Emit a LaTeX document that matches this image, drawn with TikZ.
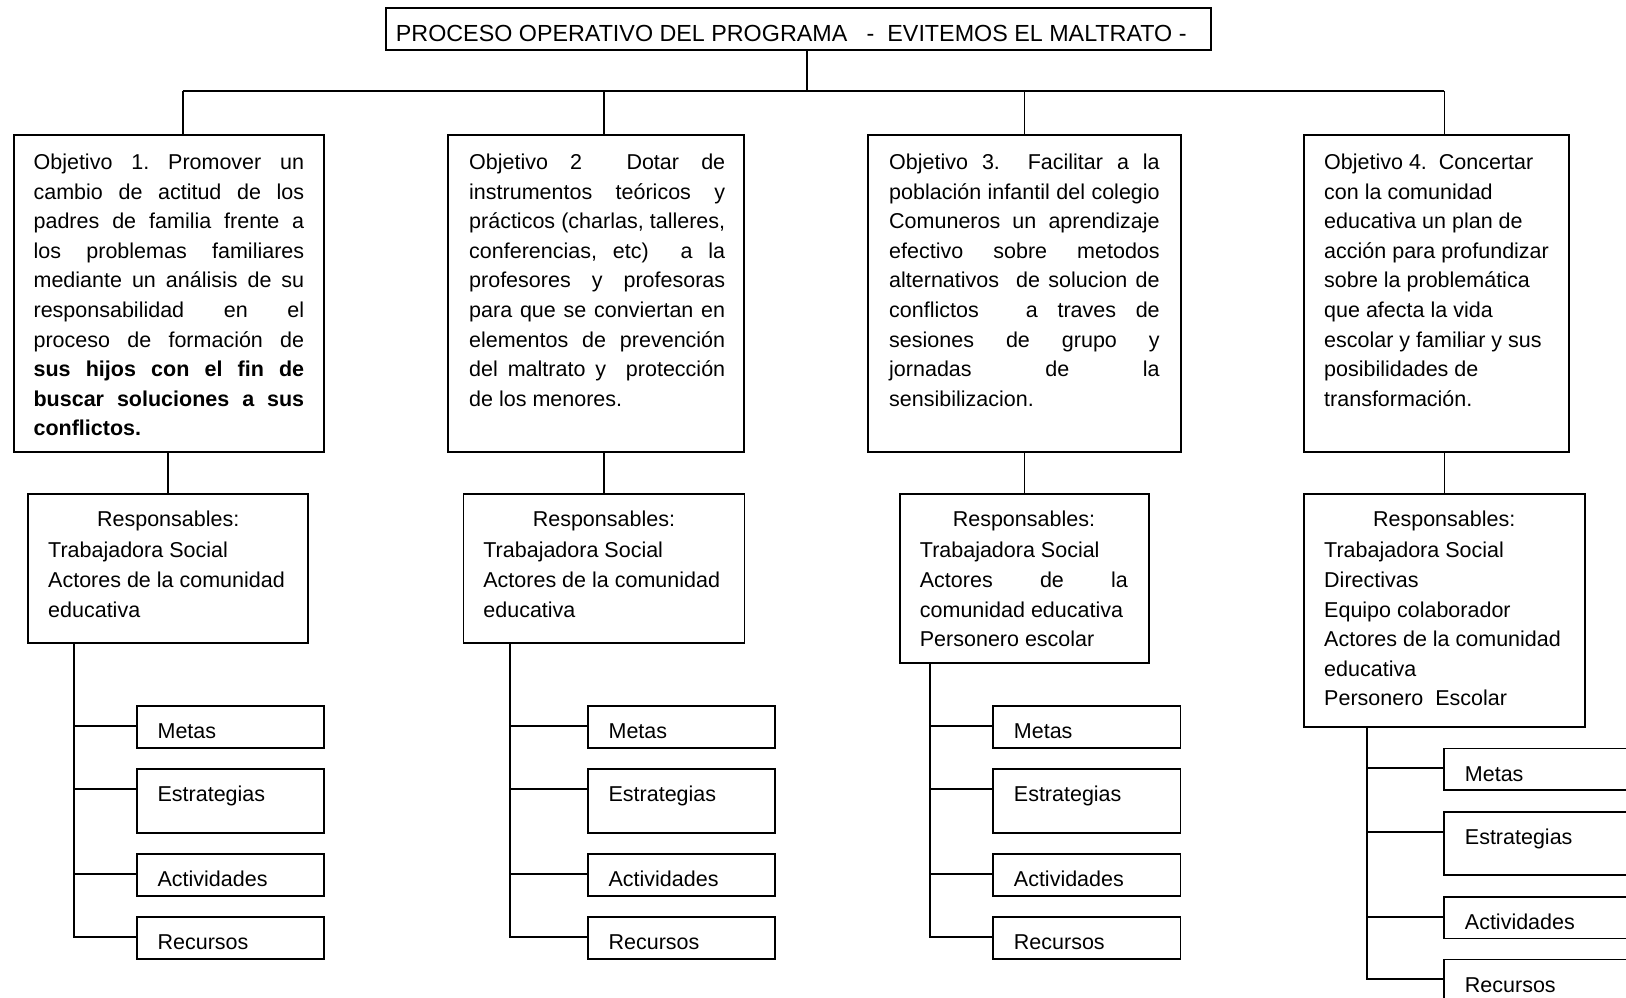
\documentclass[tikz,border=0pt]{standalone}
\usepackage{fontspec}
\setmainfont{Liberation Sans}
\setlength{\parindent}{0pt}

% one justified line of a box: the words are spread over the whole width
\def\jl#1{\leavevmode\hbox to \hsize{\jlw#1 \jlend}}
\def\jlw#1 #2\jlend{#1\ifx\relax#2\relax\else\hfill\jlw#2\jlend\fi}
% wider gap in a justified line
\newcommand{\xg}{\hskip 0pt plus 1.4fill\relax}
% fixed height of the first line
\newcommand{\fl}{\rule{0pt}{20pt}}

\begin{document}
\begin{tikzpicture}[x=1pt, y=-1pt, line width=1.8pt,
  box/.style={draw, rectangle, inner sep=0pt, anchor=north west},
  txt/.style={inner sep=0pt, anchor=north west, align=flush left, font={\fontsize{21.5}{29.6}\selectfont}},
  lbl/.style={inner sep=0pt, anchor=base west, font={\fontsize{21.5}{29.6}\selectfont}}]

\useasboundingbox (0,0) rectangle (1626,997);
\clip (0,0) rectangle (1626,997);
\fill[white] (0,0) rectangle (1626,997);

% titulo
\node[box, minimum width=825.4pt, minimum height=42pt] (titulo) at (385,7.3) {};
\begin{scope}
\clip (titulo.north west) rectangle ([yshift=9.3pt]titulo.south east);
\node[lbl, font={\fontsize{23.3}{28}\selectfont}] (titulot) at ([xshift=10pt,yshift=-33.7pt]titulo.north west) {PROCESO OPERATIVO DEL PROGRAMA\ \ \ -\ \ EVITEMOS EL MALTRATO -};
\end{scope}

% objetivos
\node[box, minimum width=310.6pt, minimum height=316.7pt] (obj1) at (12.7,134) {};
\node[box, minimum width=296pt, minimum height=316.7pt] (obj2) at (447.3,134) {};
\node[box, minimum width=312.7pt, minimum height=316.7pt] (obj3) at (867.3,134) {};
\node[box, minimum width=265pt, minimum height=316.7pt] (obj4) at (1303.3,134) {};

\node[txt, text width=270.6pt] (obj1t) at ([xshift=20pt,yshift=-14.5pt]obj1.north west) {\jl{\fl Objetivo 1. Promover un}\\ \jl{cambio de actitud de los}\\ \jl{padres de familia frente a}\\ \jl{los problemas familiares}\\ \jl{mediante un análisis de su}\\ \jl{responsabilidad en el}\\ \jl{proceso de formación de}\\ \jl{\bfseries sus hijos con el fin de}\\ \jl{\bfseries buscar soluciones a sus}\\ \textbf{conflictos.}};

\node[txt, text width=256pt] (obj2t) at ([xshift=21pt,yshift=-14.5pt]obj2.north west) {\jl{\fl Objetivo 2 \hfill Dotar de}\\ \jl{instrumentos teóricos y}\\ \jl{prácticos (charlas, talleres,}\\ \jl{conferencias, etc) \hfill a la}\\ \jl{profesores y profesoras}\\ \jl{para que se conviertan en}\\ \jl{elementos de prevención}\\ \jl{del maltrato y \hfill protección}\\ de los menores.};

\node[txt, text width=270.5pt] (obj3t) at ([xshift=21pt,yshift=-14.5pt]obj3.north west) {\jl{\fl Objetivo 3. \hfill Facilitar a la}\\ \jl{población infantil del colegio}\\ \jl{Comuneros un aprendizaje}\\ \jl{efectivo sobre metodos}\\ \jl{alternativos \hfill de solucion de}\\ \jl{conflictos \xg a traves de}\\ \jl{sesiones de grupo y}\\ \jl{jornadas de la}\\ sensibilizacion.};

\node[txt, text width=235pt] (obj4t) at ([xshift=20pt,yshift=-14.5pt]obj4.north west) {\fl Objetivo 4.\ \ Concertar\\ con la comunidad\\ educativa un plan de\\ acción para profundizar\\ sobre la problemática\\ que afecta la vida\\ escolar y familiar y sus\\ posibilidades de\\ transformación.};

% responsables
\node[box, minimum width=280pt, minimum height=148.4pt] (r1) at (27.3,493.3) {};
\node[box, minimum width=281pt, minimum height=148.4pt] (r2) at (462.5,493.3) {};
\node[box, minimum width=249pt, minimum height=169pt] (r3) at (899,493.3) {};
\node[box, minimum width=280.7pt, minimum height=232.7pt] (r4) at (1303.3,493.3) {};

\node[txt, text width=240pt] (r1t) at ([xshift=20pt,yshift=-12.5pt]r1.north west) {\makebox[\hsize][c]{\fl Responsables:}\\[1.6pt] Trabajadora Social\\ Actores de la comunidad\\ educativa};
\node[txt, text width=241pt] (r2t) at ([xshift=20pt,yshift=-12.5pt]r2.north west) {\makebox[\hsize][c]{\fl Responsables:}\\[1.6pt] Trabajadora Social\\ Actores de la comunidad\\ educativa};
\node[txt, text width=208pt] (r3t) at ([xshift=20pt,yshift=-12.5pt]r3.north west) {\makebox[\hsize][c]{\fl Responsables:}\\[1.6pt] Trabajadora Social\\ \jl{Actores de la}\\ comunidad educativa\\ Personero escolar};
\node[txt, text width=240pt] (r4t) at ([xshift=20pt,yshift=-12.5pt]r4.north west) {\makebox[\hsize][c]{\fl Responsables:}\\[1.6pt] Trabajadora Social\\ Directivas\\ Equipo colaborador\\ Actores de la comunidad\\ educativa\\ Personero\ \ Escolar};

% lineas
\coordinate (bus1) at (182.7,90.7);
\coordinate (bus4) at (1444,90.7);
\draw (bus1) -- (bus4);
\draw ([xshift=8pt]titulo.south) -- ([xshift=8pt]titulo.south |- bus1);

\draw (bus1) -- (bus1 |- obj1.north);
\draw (r2.north |- bus1) -- (r2.north |- obj2.north);
\draw (r3.north |- bus1) -- (r3.north |- obj3.north);
\draw (r4.north |- bus1) -- (r4.north |- obj4.north);

\draw (r1.north |- obj1.south) -- (r1.north);
\draw (r2.north |- obj2.south) -- (r2.north);
\draw (r3.north |- obj3.south) -- (r3.north);
\draw (r4.north |- obj4.south) -- (r4.north);

% metas, estrategias, actividades, recursos
\foreach \col/\tx/\sx/\dy in {1/74/136/0, 2/510.2/587/0, 3/930/992.3/0, 4/1366.7/1443.3/42.6}{
  \foreach \nm/\lab/\yy/\hh/\bb in {met/Metas/705/41.7/725.7, est/Estrategias/768.3/63.4/789.3, act/Actividades/853.3/41.7/874, rec/Recursos/916/41.7/936.7}{
    \node[box, minimum width=187.3pt, minimum height=\hh pt] (\nm\col) at (\sx,{\yy+\dy}) {};
    \begin{scope}
      \clip (\nm\col.north west) rectangle ([yshift=10pt]\nm\col.south east);
      \node[lbl] (\nm\col t) at ([xshift=20.7pt,yshift=-33.5pt]\nm\col.north west) {\lab};
    \end{scope}
    \coordinate (j\nm\col) at (\tx,{\bb+\dy});
    \draw (j\nm\col) -- (j\nm\col -| \nm\col.west);
  }
  \draw (r\col.south -| jrec\col) -- (jrec\col) -- (jrec\col -| rec\col.west);
}

\end{tikzpicture}
\end{document}
